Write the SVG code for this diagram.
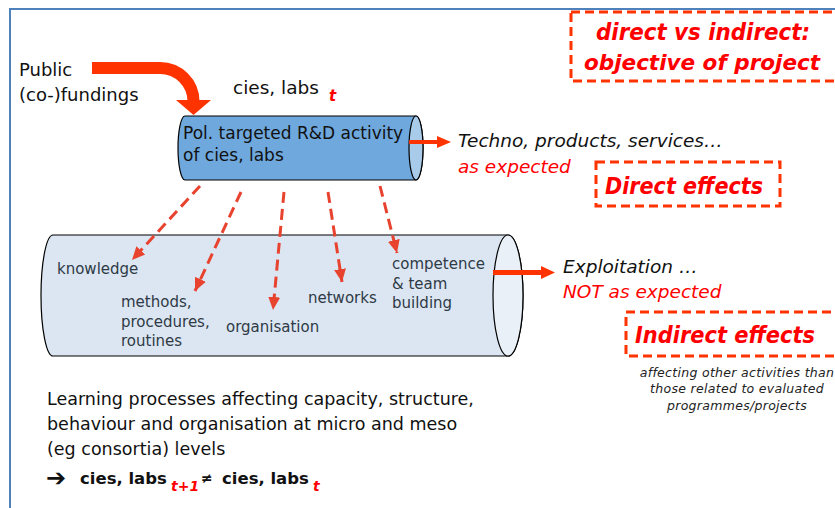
<svg xmlns="http://www.w3.org/2000/svg" width="835" height="508" viewBox="0 0 835 508">
<defs>
<style>
.t{font-family:"DejaVu Sans","Verdana",sans-serif;fill:#111;}
.lab{font-family:"DejaVu Sans","Verdana",sans-serif;fill:#2E3A46;font-size:15px;}
.it{font-style:italic;}
.red{fill:#FF0000;}
.note{font-family:"DejaVu Sans","Verdana",sans-serif;font-style:italic;fill:#222;font-size:12.5px;}
.bi{font-family:"DejaVu Sans","Verdana",sans-serif;font-weight:bold;font-style:italic;fill:#FF0000;}
.dbox{fill:none;stroke:#FF3300;stroke-width:3;stroke-dasharray:9 5;}
.dash{fill:none;stroke:#E8432F;stroke-width:3;stroke-dasharray:11 6;}
.cyl{stroke:#000;stroke-width:1.2;}
.arr{fill:#FF3300;}
</style>
<marker id="dh" markerUnits="userSpaceOnUse" markerWidth="14" markerHeight="14" viewBox="0 0 14 14" refX="13" refY="7" orient="auto">
<path d="M0,1 L13,7 L0,13 Z" fill="#E8432F"/>
</marker>
</defs>
<rect x="0" y="0" width="835" height="508" fill="#FFFFFF"/>
<!-- frame -->
<path d="M10,508 V9 H835" fill="none" stroke="#4F81BD" stroke-width="2"/>

<!-- funding -->
<g id="funding">
<text class="t" x="19" y="76" font-size="18">Public</text>
<text class="t" x="19" y="101" font-size="18">(co-)fundings</text>
</g>
<g id="funding-arrow">
<path d="M92,68 H160 A33.5,33.5 0 0 1 193.5,101.5" fill="none" stroke="#FF3300" stroke-width="12"/>
<polygon class="arr" points="176,100 211,100 193.5,115"/>
</g>

<g id="cies-t">
<text class="t" x="233" y="94" font-size="18.5">cies, labs</text>
<text class="bi" x="329" y="101" font-size="15">t</text>
</g>

<!-- top cylinder -->
<g id="rd-activity">
<path class="cyl" d="M185,116 H416 A7,32 0 0 1 416,180 H185 A7,32 0 0 1 185,116 Z" fill="#6FA8DC"/>
<ellipse class="cyl" cx="416" cy="148" rx="7" ry="32" fill="#A9CBEA"/>
<text class="t" x="183" y="139" font-size="17">Pol. targeted R&amp;D activity</text>
<text class="t" x="183" y="161" font-size="17">of cies, labs</text>
</g>

<!-- bottom cylinder -->
<g id="learning">
<path class="cyl" d="M53,235 H508 A15,60.5 0 0 1 508,356 H53 A12,60.5 0 0 1 53,235 Z" fill="#DCE6F2"/>
<ellipse class="cyl" cx="508" cy="295.5" rx="15" ry="60.5" fill="#E9F0F8"/>
<text class="lab" x="57" y="274">knowledge</text>
<text class="lab" x="121" y="307">methods,</text>
<text class="lab" x="121" y="327">procedures,</text>
<text class="lab" x="121" y="346">routines</text>
<text class="lab" x="226" y="332">organisation</text>
<text class="lab" x="308" y="303">networks</text>
<text class="lab" x="392" y="269">competence</text>
<text class="lab" x="392" y="289">&amp; team</text>
<text class="lab" x="392" y="308">building</text>
</g>

<!-- connectors -->
<g id="connectors">
<line class="dash" x1="200" y1="186" x2="132" y2="260" marker-end="url(#dh)"/>
<line class="dash" x1="241" y1="192" x2="195" y2="291" marker-end="url(#dh)"/>
<line class="dash" x1="284" y1="192" x2="273" y2="310" marker-end="url(#dh)"/>
<line class="dash" x1="328" y1="192" x2="342" y2="282" marker-end="url(#dh)"/>
<line class="dash" x1="380" y1="186" x2="397" y2="253" marker-end="url(#dh)"/>
<line x1="409" y1="142" x2="438" y2="142" stroke="#FF3300" stroke-width="4"/>
<polygon class="arr" points="437,136 451,142 437,148"/>
<line x1="493" y1="272.5" x2="542" y2="272.5" stroke="#FF3300" stroke-width="5"/>
<polygon class="arr" points="541,266 555,272.5 541,279"/>
</g>

<!-- direct outputs -->
<g id="techno">
<text class="t it" x="458" y="147" font-size="18.5">Techno, products, services…</text>
<text class="t it red" x="458" y="173" font-size="18.5">as expected</text>
</g>
<g id="exploitation">
<text class="t it" x="563" y="273" font-size="18.5">Exploitation …</text>
<text class="t it red" x="563" y="298" font-size="18.5">NOT as expected</text>
</g>

<!-- dashed boxes -->
<g id="objective-box">
<rect class="dbox" x="571" y="12" width="272" height="69"/>
<text class="bi" x="596" y="40" font-size="23" textLength="214" lengthAdjust="spacingAndGlyphs">direct vs indirect:</text>
<text class="bi" x="584" y="70" font-size="22" textLength="236" lengthAdjust="spacingAndGlyphs">objective of project</text>
</g>
<g id="direct-box">
<rect class="dbox" x="596" y="162" width="184" height="44"/>
<text class="bi" x="605" y="194" font-size="23" textLength="158" lengthAdjust="spacingAndGlyphs">Direct effects</text>
</g>
<g id="indirect-box">
<rect class="dbox" x="626" y="312" width="215" height="44"/>
<text class="bi" x="635" y="343" font-size="23" textLength="180" lengthAdjust="spacingAndGlyphs">Indirect effects</text>
</g>
<g id="indirect-note">
<text class="note" x="737" y="377" text-anchor="middle" letter-spacing="0.3">affecting other activities than</text>
<text class="note" x="737" y="393" text-anchor="middle" letter-spacing="0.3">those related to evaluated</text>
<text class="note" x="737" y="410" text-anchor="middle" letter-spacing="0.3">programmes/projects</text>
</g>

<!-- bottom text -->
<g id="learning-text">
<text class="t" x="47" y="405" font-size="17.5">Learning processes affecting capacity, structure,</text>
<text class="t" x="47" y="430" font-size="17.5">behaviour and organisation at micro and meso</text>
<text class="t" x="47" y="455" font-size="17.5">(eg consortia) levels</text>
<text class="t" x="46" y="486" font-size="24" font-weight="bold">➔</text>
<text class="t" x="80" y="484" font-size="16.5" font-weight="bold">cies, labs</text>
<text class="bi" x="171" y="491" font-size="14">t+1</text>
<text class="t" x="201" y="483" font-size="14" font-weight="bold">≠</text>
<text class="t" x="222" y="484" font-size="16.5" font-weight="bold">cies, labs</text>
<text class="bi" x="313" y="491" font-size="14">t</text>
</g>
</svg>
